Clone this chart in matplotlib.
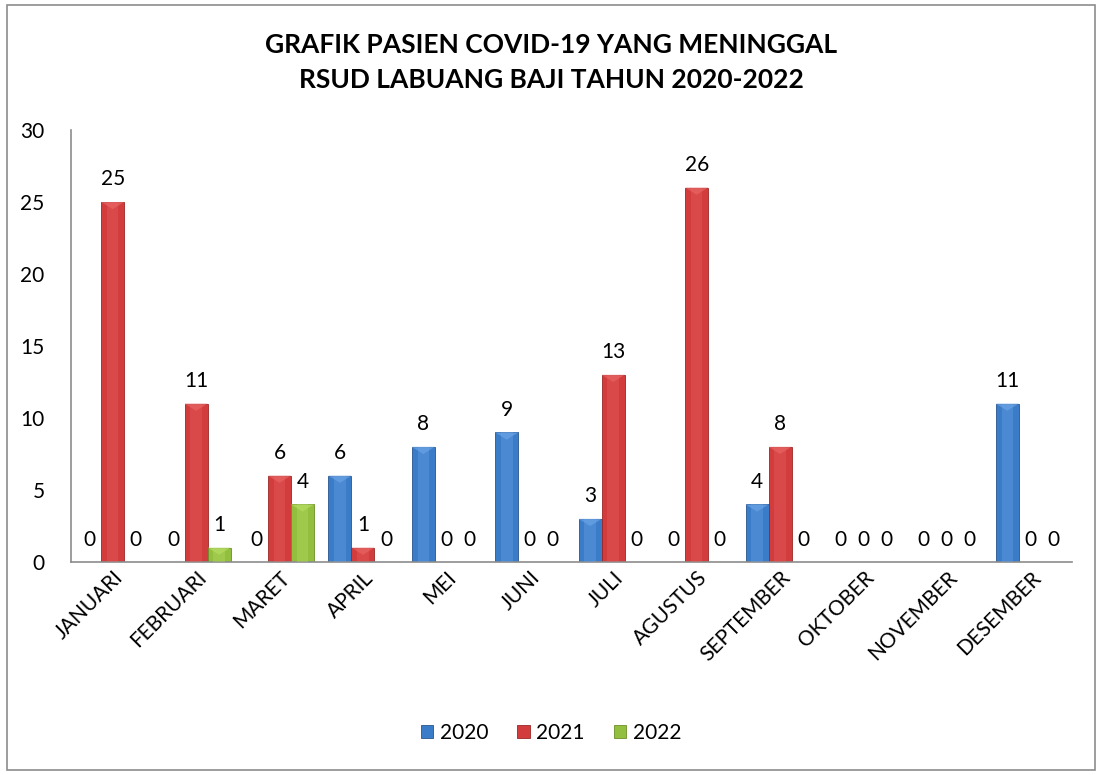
import numpy as np
import matplotlib.pyplot as plt
from matplotlib.patches import Rectangle, Polygon

bulan = ['JANUARI', 'FEBRUARI', 'MARET', 'APRIL', 'MEI', 'JUNI', 'JULI',
         'AGUSTUS', 'SEPTEMBER', 'OKTOBER', 'NOVEMBER', 'DESEMBER']
th2020 = [0, 0, 0, 6, 8, 9, 3, 0, 4, 0, 0, 11]
th2021 = [25, 11, 6, 1, 0, 0, 13, 26, 8, 0, 0, 0]
th2022 = [0, 1, 4, 0, 0, 0, 0, 0, 0, 0, 0, 0]
tahun = ['2020', '2021', '2022']

warna = ['#3b7cc8', '#d23c3c', '#93bf3e']
terang = ['#6aa3e6', '#e86464', '#b5dc62']
gelap = ['#28568e', '#9c2626', '#6b8d2a']

plt.rcParams['font.family'] = ['Lato', 'DejaVu Sans']

fig = plt.figure(figsize=(11.02, 7.75), dpi=100)
ax = fig.add_axes([0.0644, 0.2748, 0.9084, 0.5575])

# border around the whole chart
fig.patches.append(Rectangle((0.006, 0.006), 0.988, 0.988, transform=fig.transFigure,
                             fill=False, edgecolor='#8c8c8c', linewidth=1.2))

x = np.arange(len(bulan))
w = 0.276
semua = [th2020, th2021, th2022]
for i, data in enumerate(semua):
    pos = x + (i - 1) * w
    ax.bar(pos, data, width=w, color=warna[i], edgecolor=gelap[i], linewidth=0.6,
           label=tahun[i], zorder=2)
    # lighter centre stripe for the bevel look
    ax.bar(pos, data, width=w * 0.5, color=terang[i], alpha=0.35, linewidth=0, zorder=3)
    for p, v in zip(pos, data):
        if v > 0:
            h = min(v, 0.5)
            tri = Polygon([(p - w / 2, v), (p + w / 2, v), (p, v - h)],
                          closed=True, facecolor=terang[i], alpha=0.7,
                          edgecolor='none', zorder=4)
            ax.add_patch(tri)
        ax.annotate(str(v), (p, v), xytext=(0, 9), textcoords='offset points',
                    ha='center', va='bottom', fontsize=15, color='black')

ax.set_xlim(-0.5, len(bulan) - 0.5)
ax.set_ylim(0, 30)
ax.set_yticks([0, 5, 10, 15, 20, 25, 30])
ax.set_xticks(x)
ax.set_xticklabels(bulan, rotation=45, ha='right', rotation_mode='anchor', fontsize=15)
ax.tick_params(axis='y', length=0, pad=19, labelsize=15)
ax.tick_params(axis='x', length=0, pad=4)

for s in ['top', 'right']:
    ax.spines[s].set_visible(False)
for s in ['left', 'bottom']:
    ax.spines[s].set_color('#8c8c8c')
    ax.spines[s].set_linewidth(1.2)

fig.text(0.5, 0.942, 'GRAFIK PASIEN COVID-19 YANG MENINGGAL', ha='center', va='center',
         fontsize=19, fontweight='bold')
fig.text(0.5, 0.897, 'RSUD LABUANG BAJI TAHUN 2020-2022', ha='center', va='center',
         fontsize=19, fontweight='bold')

fig.legend(*ax.get_legend_handles_labels(), loc='center', bbox_to_anchor=(0.5, 0.054),
           ncol=3, frameon=False, fontsize=15, handlelength=0.6, handleheight=0.6,
           handletextpad=0.3, columnspacing=1.4)

fig.savefig('out.png', dpi=100)
